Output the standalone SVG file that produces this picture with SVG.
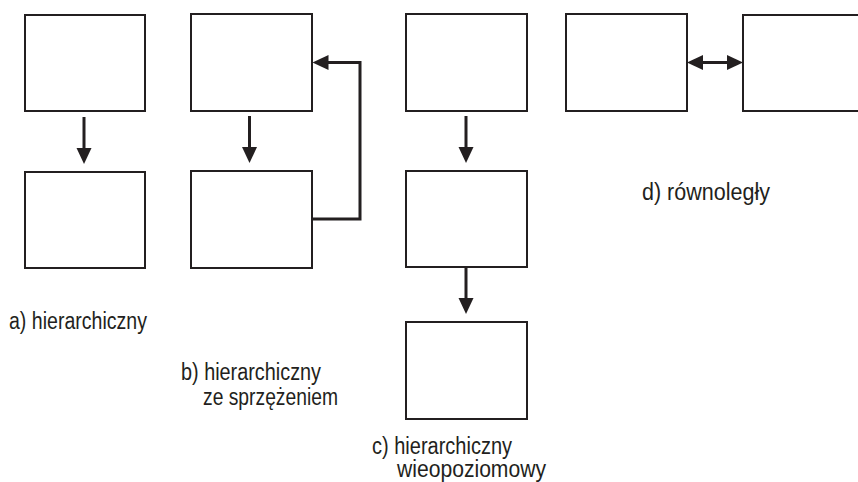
<svg xmlns="http://www.w3.org/2000/svg" width="858" height="482" viewBox="0 0 858 482">
<style>
.box{fill:#fff;stroke:#231f20;stroke-width:2}
.conn{fill:none;stroke:#231f20;stroke-width:3}
.arr{marker-end:url(#ah)}
.dbl{marker-start:url(#ah);marker-end:url(#ah)}
text{font-family:"Liberation Sans",Arial,sans-serif;font-size:23px;fill:#231f20}
</style>
<defs>
<marker id="ah" markerUnits="userSpaceOnUse" viewBox="0 0 16 16" markerWidth="16" markerHeight="16" refX="8" refY="8" orient="auto-start-reverse">
<path d="M0,0.5 L16,8 L0,15.5 z" fill="#231f20"/>
</marker>
</defs>
<rect width="858" height="482" fill="#fff"/>
<g id="a1"><rect class="box" x="25" y="15" width="120" height="96"/></g>
<g id="a2"><rect class="box" x="25" y="172" width="120" height="96"/></g>
<g id="b1"><rect class="box" x="191" y="14" width="121" height="97"/></g>
<g id="b2"><rect class="box" x="191" y="171" width="121" height="97"/></g>
<g id="c1"><rect class="box" x="406" y="14" width="121" height="97"/></g>
<g id="c2"><rect class="box" x="406" y="171" width="121" height="96"/></g>
<g id="c3"><rect class="box" x="406" y="322" width="121" height="97"/></g>
<g id="d1"><rect class="box" x="566" y="14" width="121" height="97"/></g>
<g id="d2"><rect class="box" x="743" y="15" width="121" height="96"/></g>
<g id="connectors">
<path class="conn arr" d="M84,117 V156"/>
<path class="conn arr" d="M249.5,116 V155"/>
<path class="conn arr" d="M312,219 H360 V62.5 H320.5"/>
<path class="conn arr" d="M466,116 V155"/>
<path class="conn arr" d="M466,267 V306"/>
<path class="conn dbl" d="M695,62.5 H735"/>
</g>
<g id="labels">
<text x="9" y="329" textLength="138" lengthAdjust="spacingAndGlyphs">a) hierarchiczny</text>
<text x="181" y="380" textLength="140" lengthAdjust="spacingAndGlyphs">b) hierarchiczny</text>
<text x="203" y="405" textLength="135" lengthAdjust="spacingAndGlyphs">ze sprzężeniem</text>
<text x="372" y="454" textLength="140" lengthAdjust="spacingAndGlyphs">c) hierarchiczny</text>
<text x="397" y="477" textLength="149" lengthAdjust="spacingAndGlyphs">wieopoziomowy</text>
<text x="642" y="200" textLength="128" lengthAdjust="spacingAndGlyphs">d) równoległy</text>
</g>
</svg>
